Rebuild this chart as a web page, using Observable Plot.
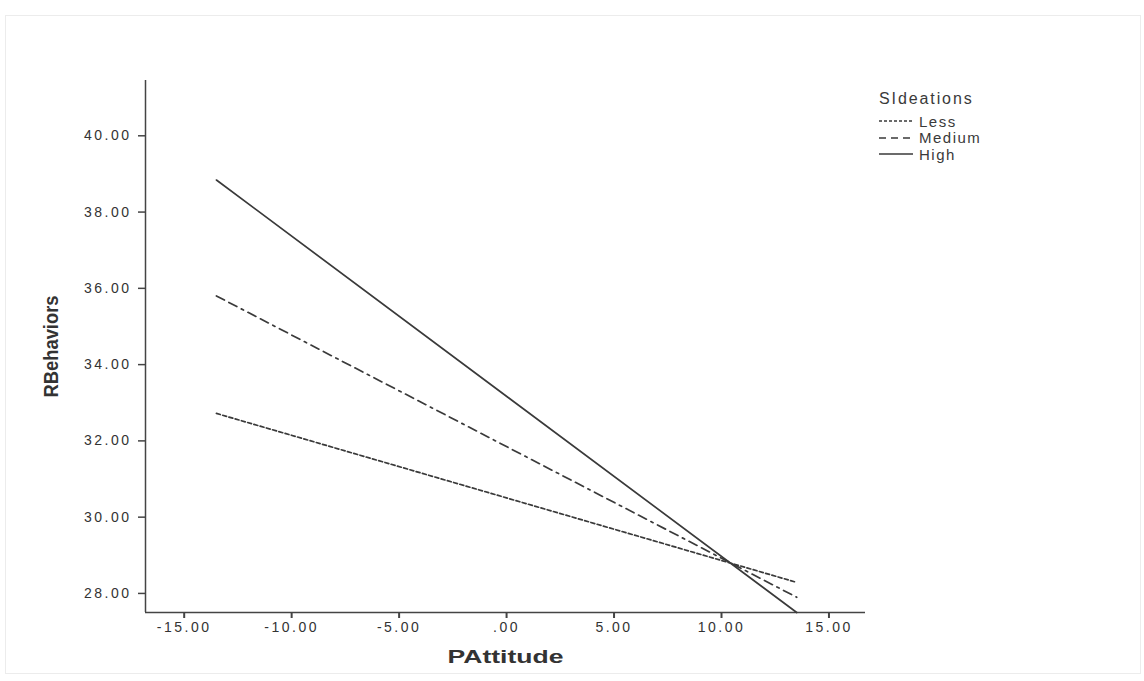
<!DOCTYPE html>
<html>
<head>
<meta charset="utf-8">
<script src="https://cdn.jsdelivr.net/npm/d3@7"></script>
<script src="https://cdn.jsdelivr.net/npm/@observablehq/plot@0.6"></script>
<style>
  html, body { margin: 0; padding: 0; background: #fff; }
  #wrap { position: relative; width: 1144px; height: 681px; overflow: hidden; }
  #border { position: absolute; left: 5px; top: 15px; width: 1134px; height: 657px; border: 1px solid #ececec; pointer-events: none; }
  #legend { position: absolute; left: 879px; top: 89px; font-family: "Liberation Sans", Arial, sans-serif; color: #3a3a3a; }
  #legend .title { font-size: 16px; letter-spacing: 1.9px; margin-bottom: 5px; line-height: 19px; }
  #legend .row { display: flex; align-items: center; height: 16.5px; font-size: 15px; letter-spacing: 1.5px; }
  #legend svg { margin-right: 6px; }
  svg.plot text { fill: #333; }
</style>
</head>
<body>
<div id="wrap">
  <div id="chart"></div>
  <div id="border"></div>
  <div id="legend"></div>
</div>
<script>
// ---- data ----
const seriesNames = ["Less", "Medium", "High"];
const pattitude = [-13.5, 13.5];
const lessValues = [32.72, 28.29];
const mediumValues = [35.80, 27.90];
const highValues = [38.84, 27.50];
const xTicks = [-15, -10, -5, 0, 5, 10, 15];
const yTicks = [28, 30, 32, 34, 36, 38, 40];
const xTitle = "PAttitude";
const yTitle = "RBehaviors";
const legendTitle = "SIdeations";

// ---- build ----
const toRows = (vals) => pattitude.map((x, i) => ({x, y: vals[i]}));
const dashes = {Less: "4,2.5", Medium: "9,5,9,5,2.5,5", High: null};
const lineColor = "#3a3a3a";
const fmt = d => d === 0 ? ".00" : d.toFixed(2);

const xDomain = [-16.8, 16.7];
const yDomain = [27.5, 41.45];

const chart = Plot.plot({
  width: 1144,
  height: 681,
  marginLeft: 145,
  marginRight: 279,
  marginTop: 80,
  marginBottom: 69,
  style: {fontFamily: "'Liberation Sans', Arial, sans-serif", fontSize: "14px", color: "#333", background: "#fff"},
  x: {domain: xDomain},
  y: {domain: yDomain},
  marks: [
    Plot.ruleY([yDomain[0]], {stroke: "#444", strokeWidth: 1.5}),
    Plot.ruleX([xDomain[0]], {stroke: "#444", strokeWidth: 1.5}),
    Plot.axisX({ticks: xTicks, tickFormat: fmt, tickSize: 6, tickPadding: 4, strokeWidth: 2, stroke: "#444",
      label: xTitle, labelAnchor: "center", labelOffset: 50}),
    Plot.axisY({ticks: yTicks, tickFormat: fmt, tickSize: 7, tickPadding: 7, strokeWidth: 1.5, stroke: "#444",
      label: yTitle, labelAnchor: "center", labelOffset: 102}),
    Plot.line(toRows(lessValues), {x: "x", y: "y", stroke: lineColor, strokeWidth: 1.7, strokeDasharray: dashes.Less}),
    Plot.line(toRows(mediumValues), {x: "x", y: "y", stroke: lineColor, strokeWidth: 1.7, strokeDasharray: dashes.Medium}),
    Plot.line(toRows(highValues), {x: "x", y: "y", stroke: lineColor, strokeWidth: 1.7})
  ]
});
document.getElementById("chart").appendChild(chart);

// style tick labels and titles
const svg = d3.select(chart);
svg.selectAll('g[aria-label="x-axis tick label"] text, g[aria-label="y-axis tick label"] text')
  .style("letter-spacing", "2.5px").style("font-size", "14px");
svg.select('g[aria-label="x-axis label"] text')
  .text(xTitle)
  .style("font-weight", "bold").style("font-size", "18px")
  .attr("textLength", 116).attr("lengthAdjust", "spacingAndGlyphs");
svg.select('g[aria-label="y-axis label"] text')
  .text(yTitle)
  .style("font-weight", "bold").style("font-size", "21px")
  .attr("textLength", 102).attr("lengthAdjust", "spacingAndGlyphs");

// legend
const legend = d3.select("#legend");
legend.append("div").attr("class", "title").text(legendTitle);
for (const name of seriesNames) {
  const row = legend.append("div").attr("class", "row");
  const s = row.append("svg").attr("width", 34).attr("height", 10);
  s.append("line").attr("x1", 0).attr("x2", 34).attr("y1", 5).attr("y2", 5)
    .attr("stroke", lineColor).attr("stroke-width", 1.4)
    .attr("stroke-dasharray", name === "Less" ? "3,2" : name === "Medium" ? "7,5" : null);
  row.append("span").text(name);
}
</script>
</body>
</html>
